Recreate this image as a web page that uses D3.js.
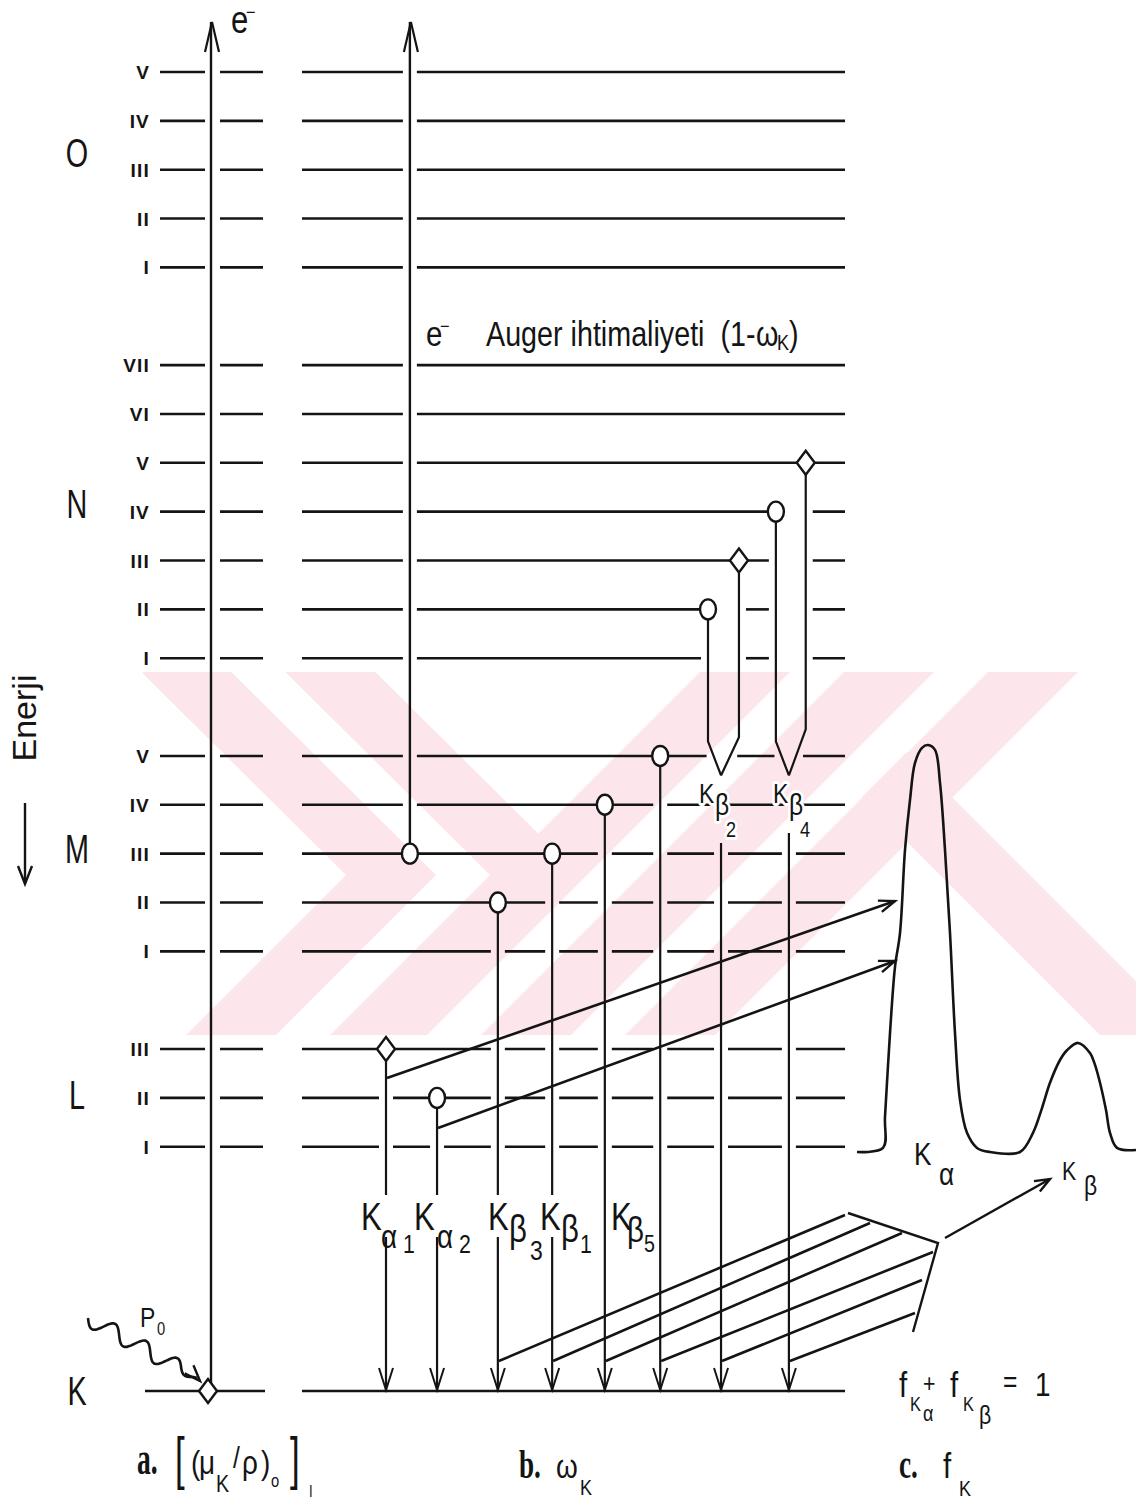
<!DOCTYPE html>
<html>
<head>
<meta charset="utf-8">
<script src="https://cdn.jsdelivr.net/npm/d3@7"></script>
<style>
  html, body { margin: 0; padding: 0; background: #fff; }
  svg { display: block; }
  text { white-space: pre; }
</style>
</head>
<body>
<svg id="chart" width="1136" height="1502"></svg>
<script>
// ---------- data ----------
// Energy levels (top = least bound). Slot = position in the schematic energy order.
const levelIds   = ["O5","O4","O3","O2","O1","N7","N6","N5","N4","N3","N2","N1","M5","M4","M3","M2","M1","L3","L2","L1","K"];
const levelNums  = ["V","IV","III","II","I","VII","VI","V","IV","III","II","I","V","IV","III","II","I","III","II","I",""];
const levelSlots = [0,1,2,3,4,6,7,8,9,10,11,12,14,15,16,17,18,20,21,22,27];

const shellNames = ["O","N","M","L","K"];
const shellSlots = [1.65,8.85,15.9,20.95,27];

// K-series transitions: name, origin level, column, origin marker
const lineNames = ["Kα1","Kα2","Kβ3","Kβ1","Kβ5","Kβ5","Kβ2","Kβ2","Kβ4","Kβ4"];
const lineFrom  = ["L3","L2","M2","M3","M4","M5","N2","N3","N4","N5"];
const lineCols  = [0, 0.94, 2.06, 3.06, 4.03, 5.05, 5.93, 6.5, 7.18, 7.73];
const lineMarks = ["diamond","circle","circle","circle","circle","circle","circle","diamond","circle","diamond"];
// columns where the paired Kβ2 / Kβ4 components join
const pairNames = ["Kβ2","Kβ4"];
const pairCols  = [6.17, 7.42];

// Auger electron emitted from M3
const augerFrom = "M3";
const augerCol  = 0.44;

// Detected spectrum (arbitrary energy channel vs. relative counts)
const specChannel = [0,26,28,33,38,43,48,53,58,65,71,78,83,88,93,98,103,110,120,133,163,176,185,193,203,210,221,233,238,243,249,253,260,279];
const specCounts  = [0,0.01,0.086,0.292,0.455,0.538,0.742,0.865,0.956,0.993,1,0.988,0.907,0.742,0.538,0.292,0.128,0.047,0.01,0,0,0.047,0.108,0.17,0.226,0.25,0.268,0.243,0.214,0.17,0.103,0.047,0.01,0.005];

// ---------- setup ----------
const SANS  = "'Liberation Sans',Arial,sans-serif";
const SERIF = "'Liberation Serif','Times New Roman',serif";
const INK = "#141414";

const svg = d3.select("#chart");
const y = d3.scaleLinear().domain([0, 27]).range([72, 1391]);
const x = d3.scaleLinear().domain([0, 8]).range([386, 386 + 8 * 54.3]);
const slotOf = id => levelSlots[levelIds.indexOf(id)];
const yLev = id => y(slotOf(id));
const yK = yLev("K");

// ---------- faint background emblem ----------
svg.append("defs").append("clipPath").attr("id", "wmclip")
  .append("rect").attr("x", 143).attr("y", 672).attr("width", 993).attr("height", 363);
const wm = svg.append("g").attr("fill", "#fde6eb").attr("clip-path", "url(#wmclip)");
const addPoly = pts => wm.append("polygon").attr("points", pts.map(p => p.join(",")).join(" "));
// two chevrons on the left
const tipY = 875, bw = 90, reach = 203;
[143, 287].forEach(x0 => addPoly([[x0 - 40, 634], [x0 + bw - 40, 634], [x0 + bw + reach, tipY],
  [x0 + bw + reach - 220, 1095], [x0 + reach - 220, 1095], [x0 + reach, tipY]]));
// rising strokes on the right (x + y between the two bounds)
[[1660, 1750], [1516, 1606], [1372, 1462]].forEach(([a, b]) =>
  addPoly([[a - 634, 634], [b - 634, 634], [b - 1095, 1095], [a - 1095, 1095]]));
// falling stroke branching off the outer one
addPoly([[907, 752], [1250, 1095], [1160, 1095], [862, 797]]);

const g = svg.append("g").attr("stroke", INK).attr("fill", "none").attr("stroke-linecap", "butt");
const seg = (x1, y1, x2, y2, w = 2.4) => g.append("line").attr("x1", x1).attr("y1", y1).attr("x2", x2).attr("y2", y2).attr("stroke-width", w);
const poly = (pts, w = 2.2) => g.append("path").attr("d", d3.line()(pts)).attr("stroke-width", w).attr("stroke-linejoin", "miter");
const arrowHead = (tip, from, len = 22, half = 8, w = 2.2) => {
  const dx = tip[0] - from[0], dy = tip[1] - from[1], L = Math.hypot(dx, dy);
  const ux = dx / L, uy = dy / L, px = -uy, py = ux;
  const bx = tip[0] - ux * len, by = tip[1] - uy * len;
  poly([[bx + px * half, by + py * half], tip, [bx - px * half, by - py * half]], w);
};

// ---------- vertical paths (used for gaps in the level lines) ----------
const paths = [];
const augerX = x(augerCol);
paths.push({ pts: [[augerX, yLev(augerFrom)], [augerX, 22]] });

const bendY = y(13.7), vTipY = y(14.4);
const resumeY = [843, 833];
lineNames.forEach((n, i) => {
  const cx = x(lineCols[i]), y0 = yLev(lineFrom[i]);
  const p = pairNames.indexOf(n);
  if (p < 0) {
    paths.push({ pts: [[cx, y0], [cx, yK]], name: n, simple: true });
  } else {
    const isLeft = lineFrom[i] === "N2" || lineFrom[i] === "N4";
    const b = isLeft ? bendY : bendY - (p === 0 ? 4 : 12);
    paths.push({ pts: [[cx, y0], [cx, b], [x(pairCols[p]), vTipY]], name: n });
  }
});
pairCols.forEach((c, p) => paths.push({ pts: [[x(c), resumeY[p]], [x(c), yK]], merged: true }));

function crossings(yy) {
  const xs = [];
  paths.forEach(pa => {
    for (let k = 0; k < pa.pts.length - 1; k++) {
      const [x1, y1] = pa.pts[k], [x2, y2] = pa.pts[k + 1];
      const lo = Math.min(y1, y2), hi = Math.max(y1, y2);
      if (yy > lo + 2 && yy < hi - 2) xs.push(x1 + (x2 - x1) * (yy - y1) / (y2 - y1));
    }
  });
  return xs.sort((a, b) => a - b);
}

// ---------- level lines ----------
const RX0 = 302, RX1 = 845, GAP = 7;
levelIds.forEach((id, i) => {
  const yy = y(levelSlots[i]);
  // column a
  if (id === "K") seg(145, yy, 265, yy, 2.6);
  else { seg(160, yy, 205, yy, 2.6); seg(220, yy, 263, yy, 2.6); }
  // column b
  const gaps = [];
  if (id !== "K") crossings(yy).forEach(cx => {
    const last = gaps[gaps.length - 1];
    if (last && cx - GAP - last[1] < 20) last[1] = cx + GAP;
    else gaps.push([cx - GAP, cx + GAP]);
  });
  // a level that ends in a circle just before a crossing stops at the circle
  lineFrom.forEach((f, j) => {
    if (f !== id || lineMarks[j] !== "circle") return;
    const mx = x(lineCols[j]);
    gaps.forEach(gp => { if (gp[0] > mx && gp[0] - mx < 26) gp[0] = mx; });
  });
  let start = RX0;
  gaps.forEach(([a, b]) => { if (a > start) seg(start, yy, a, yy, 2.6); start = b; });
  if (start < RX1) seg(start, yy, RX1, yy, 2.6);
});

// ---------- column a: incident photon and photoelectron ----------
const aX = 211;
seg(aX, yK, aX, 22, 2.4);
arrowHead([aX + 1, 22], [aX + 1, 60], 30, 7);
{
  const p0 = [88, 1318], p1 = [197, 1378];
  const dx = p1[0] - p0[0], dy = p1[1] - p0[1], L = Math.hypot(dx, dy);
  const ux = dx / L, uy = dy / L, px = -uy, py = ux;
  const pts = d3.range(0, 1.0001, 0.01).map(t => {
    const a = Math.sin(t * Math.PI * 2 * 3.5) * 8 * Math.min(1, (1 - t) * 6);
    return [p0[0] + dx * t + px * a, p0[1] + dy * t + py * a];
  });
  g.append("path").attr("d", d3.line().curve(d3.curveBasis)(pts)).attr("stroke-width", 2.6);
  arrowHead([200, 1381], [185, 1365], 16, 6, 2.4);
}

// ---------- column b: transitions ----------
const labelBreak = [1195, 1237];
paths.forEach(pa => {
  if (pa.simple) {
    const [[cx, y0]] = pa.pts;
    if (["Kα1","Kα2","Kβ3","Kβ1"].includes(pa.name)) {
      seg(cx, y0, cx, labelBreak[0], 2.2);
      seg(cx, labelBreak[1], cx, yK, 2.2);
    } else seg(cx, y0, cx, yK, 2.2);
    arrowHead([cx, yK - 1], [cx, yK - 40], 22, 7, 2);
  } else if (pa.merged) {
    const [[cx, y0]] = pa.pts;
    seg(cx, y0, cx, yK, 2.2);
    arrowHead([cx, yK - 1], [cx, yK - 40], 22, 7, 2);
  } else if (pa.name) {
    poly(pa.pts, 2.2);
  }
});
// Auger electron
seg(augerX, yLev(augerFrom), augerX, 22, 2.4);
arrowHead([augerX + 1, 22], [augerX + 1, 60], 30, 7);

// origin markers
const mk = svg.append("g").attr("fill", "#fff").attr("stroke", INK).attr("stroke-width", 2.4);
const marker = (type, cx, cy) => {
  if (type === "circle") mk.append("ellipse").attr("cx", cx).attr("cy", cy).attr("rx", 8).attr("ry", 10);
  else mk.append("path").attr("d", `M${cx},${cy - 12}L${cx + 9},${cy}L${cx},${cy + 12}L${cx - 9},${cy}Z`);
};
lineNames.forEach((n, i) => marker(lineMarks[i], x(lineCols[i]), yLev(lineFrom[i])));
marker("circle", augerX, yLev(augerFrom));
marker("diamond", 208, yK);

// ---------- column c: spectrum and feeding arrows ----------
const sx = d3.scaleLinear().domain([0, 279]).range([857, 1136]);
const sy = d3.scaleLinear().domain([0, 1]).range([1152, 745]);
g.append("path")
  .attr("d", d3.line().x((d, i) => sx(specChannel[i])).y(d => sy(d)).curve(d3.curveCatmullRom.alpha(0.5))(specCounts))
  .attr("stroke-width", 2.6).attr("stroke-linejoin", "round");

// Kα1, Kα2 feed the Kα peak
[[0, 1078, [895, 901]], [0.94, 1128, [895, 961]]].forEach(([c, y0, tip]) => {
  const st = [x(c) + 1, y0];
  poly([st, tip], 2.6);
  arrowHead(tip, st, 16, 6, 2.4);
});

// Kβ lines feed the Kβ peak
const bundleCols = [2.06, 3.06, 4.03, 5.05, pairCols[0], pairCols[1]];
const bundleEnds = [[845, 1215], [870, 1223], [902, 1233], [933, 1252], [922, 1280], [915, 1313]];
bundleCols.forEach((c, i) => poly([[x(c) + 1, 1361], bundleEnds[i]], 2.6));
poly([[848, 1213], [938, 1243], [913, 1332]], 2.4);
poly([[945, 1238], [1050, 1179]], 2.4);
arrowHead([1050, 1179], [945, 1238], 15, 6, 2.4);

// ---------- text ----------
const T = svg.append("g").attr("fill", INK).attr("stroke", "none");
// one text run, condensed horizontally by sx
const piece = (s, tx, ty, size, o = {}) => {
  const t = T.append("text")
    .attr("transform", `translate(${tx},${ty}) scale(${o.sx ?? 0.82},1)`)
    .attr("font-family", o.family || SANS).attr("font-size", size)
    .attr("font-weight", o.weight || "normal")
    .attr("letter-spacing", o.ls || 0)
    .attr("text-anchor", o.anchor || "start").text(s);
  if (o.halo) t.attr("stroke", "#fff").attr("stroke-width", 6).attr("paint-order", "stroke").attr("stroke-linejoin", "round");
  return t;
};
const run = (parts, o = {}) => parts.forEach(([s, tx, ty, size, extra]) => piece(s, tx, ty, size, Object.assign({}, o, extra || {})));

// subshell numerals and shell letters
levelIds.forEach((id, i) => {
  if (levelNums[i]) piece(levelNums[i], 150, y(levelSlots[i]) + 7, 19, { anchor: "end", sx: 1.0, weight: "bold", ls: 1.2 });
});
shellNames.forEach((s, i) => piece(s, 77, y(shellSlots[i]) + 14, 40, { anchor: "middle", sx: 0.72 }));

// energy axis
T.append("text").attr("transform", "translate(36,718) rotate(-90)").attr("text-anchor", "middle")
  .attr("font-family", SANS).attr("font-size", 34).text("Enerji");
seg(25, 803, 25, 883, 2.4);
arrowHead([25, 884], [25, 850], 18, 7, 2.4);

// electrons
run([["e", 231, 33, 38], ["−", 246, 19, 20]]);
run([["e", 426, 346, 36], ["−", 440, 333, 20]]);
run([["Auger ihtimaliyeti  (1-", 486, 346, 35], ["ω", 756, 346, 35], ["K", 777, 350, 22], [")", 789, 346, 35]]);

// photon
run([["P", 140, 1327, 28], ["0", 157, 1335, 18]]);

// transition labels
run([["K", 361, 1230, 38], ["α", 381, 1248, 34], ["1", 403, 1253, 26]]);
run([["K", 414, 1230, 38], ["α", 437, 1248, 34], ["2", 459, 1253, 26]]);
run([["K", 488, 1230, 38], ["β", 509, 1242, 38], ["3", 530, 1260, 28]]);
run([["K", 540, 1230, 38], ["β", 561, 1242, 38], ["1", 580, 1253, 26]]);
run([["K", 611, 1230, 38], ["β", 627, 1242, 36], ["5", 644, 1252, 24]]);
run([["K", 699, 803, 28], ["β", 715, 815, 30], ["2", 726, 837, 22]], { halo: true });
run([["K", 773, 803, 28], ["β", 789, 815, 30], ["4", 800, 837, 22]], { halo: true });

// peak labels
run([["K", 914, 1165, 32], ["α", 939, 1185, 32]]);
run([["K", 1062, 1180, 26], ["β", 1084, 1195, 28]]);

// intensity ratio
run([["f", 899, 1397, 36], ["K", 910, 1411, 20], ["α", 923, 1421, 22], ["+", 923, 1392, 26],
     ["f", 950, 1397, 36], ["K", 963, 1411, 20], ["β", 979, 1424, 26], ["=", 1003, 1392, 30], ["1", 1035, 1396, 34]]);

// captions
piece("a.", 137, 1474, 46, { family: SERIF, weight: "bold", sx: 0.6 });
run([["[", 175, 1478, 58, { sx: 0.6 }], ["(", 191, 1474, 34], ["μ", 199, 1474, 34], ["K", 216, 1492, 24],
     ["/", 233, 1468, 30], ["ρ", 242, 1474, 34], [")", 261, 1474, 34], ["o", 271, 1487, 18],
     ["]", 290, 1478, 58, { sx: 0.6 }], ["I", 309, 1497, 16]]);
piece("b.", 519, 1478, 40, { family: SERIF, weight: "bold", sx: 0.68 });
run([["ω", 556, 1478, 34], ["K", 580, 1495, 22]]);
piece("c.", 899, 1478, 40, { family: SERIF, weight: "bold", sx: 0.68 });
run([["f", 943, 1478, 36], ["K", 959, 1496, 22]]);
</script>
</body>
</html>
